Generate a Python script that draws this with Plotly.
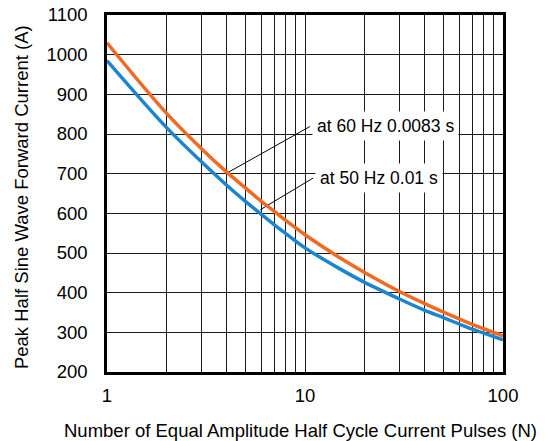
import plotly.graph_objects as go
import math

# Data
pulses = [1, 2, 3, 4, 5, 6, 7, 8, 10, 15, 20, 30, 40, 50, 60, 70, 80, 100]
current_60hz = [1030, 852, 763, 705, 664, 631, 605, 582, 546, 488, 451, 403, 373, 351, 334, 320, 309, 291]
current_50hz = [985, 816, 730, 672, 630, 598, 571, 549, 513, 460, 426, 384, 356, 337, 321, 308, 298, 281]

label_60 = "at 60 Hz 0.0083 s"
label_50 = "at 50 Hz 0.01 s"
leader_60_x = [4.05, 10.6]
leader_60_y = [702, 819]
leader_50_x = [5.94, 11.0]
leader_50_y = [609, 689]

x_tick_vals = [1, 10, 100]
x_minor_vals = [2, 3, 4, 5, 6, 7, 8, 9, 20, 30, 40, 50, 60, 70, 80, 90]

x_title = "Number of Equal Amplitude Half Cycle Current Pulses (N)"
y_title = "Peak Half Sine Wave Forward Current (A)"

FONT = "Liberation Sans, Arial, sans-serif"
ORANGE = "#F06A22"
BLUE = "#1B86CF"
GRID = "#1a1a1a"

fig = go.Figure()
fig.add_trace(go.Scatter(x=leader_60_x, y=leader_60_y, mode="lines",
                         line=dict(color="black", width=1), hoverinfo="skip", showlegend=False))
fig.add_trace(go.Scatter(x=leader_50_x, y=leader_50_y, mode="lines",
                         line=dict(color="black", width=1), hoverinfo="skip", showlegend=False))
fig.add_trace(go.Scatter(x=pulses, y=current_50hz, mode="lines", line_shape="spline",
                         line=dict(color=BLUE, width=3.5), showlegend=False, hoverinfo="skip"))
fig.add_trace(go.Scatter(x=pulses, y=current_60hz, mode="lines", line_shape="spline",
                         line=dict(color=ORANGE, width=3.5), showlegend=False, hoverinfo="skip"))

fig.add_annotation(x=math.log10(leader_60_x[1]), y=leader_60_y[1], text=label_60,
                   showarrow=False, xanchor="left", yanchor="middle", xshift=2,
                   bgcolor="white", borderpad=4, font=dict(size=17.5, color="black", family=FONT))
fig.add_annotation(x=math.log10(leader_50_x[1]), y=leader_50_y[1], text=label_50,
                   showarrow=False, xanchor="left", yanchor="middle", xshift=2,
                   bgcolor="white", borderpad=4, font=dict(size=17.5, color="black", family=FONT))

# axis titles
fig.add_annotation(xref="paper", yref="paper", x=0.4886, y=-0.1625, text=x_title,
                   showarrow=False, xanchor="center", yanchor="middle",
                   font=dict(size=18.5, color="black", family=FONT))
fig.add_annotation(xref="paper", yref="paper", x=-0.2172, y=0.49, text=y_title,
                   textangle=-90, showarrow=False, xanchor="center", yanchor="middle",
                   font=dict(size=18.5, color="black", family=FONT))

fig.update_layout(
    width=547, height=441,
    margin=dict(l=107, r=44, t=15, b=69, autoexpand=False),
    paper_bgcolor="white", plot_bgcolor="white",
    font=dict(family=FONT, size=18.5, color="black"),
    showlegend=False,
    hovermode=False,
)
fig.update_xaxes(
    type="log", range=[0, 2],
    tickvals=x_tick_vals, ticktext=[str(v) for v in x_tick_vals],
    showgrid=True, gridcolor=GRID, gridwidth=1,
    minor=dict(tickvals=x_minor_vals, showgrid=True, gridcolor=GRID, gridwidth=1, ticks=""),
    showline=True, linecolor="black", linewidth=2.5, mirror=True,
    ticks="outside", ticklen=5, tickcolor="rgba(0,0,0,0)",
    ticklabeloverflow="allow",
    zeroline=False, automargin=False,
)
fig.update_yaxes(
    range=[200, 1100], dtick=100, tick0=200,
    showgrid=True, gridcolor=GRID, gridwidth=1,
    showline=True, linecolor="black", linewidth=2.5, mirror=True,
    ticks="outside", ticklen=13, tickcolor="rgba(0,0,0,0)",
    ticklabeloverflow="allow",
    zeroline=False, automargin=False,
)

# remove the page's default 8px body margin so the figure fills the window exactly
fig.write_html("out.html", config={"displayModeBar": False},
               post_script="document.body.style.margin='0px';")
